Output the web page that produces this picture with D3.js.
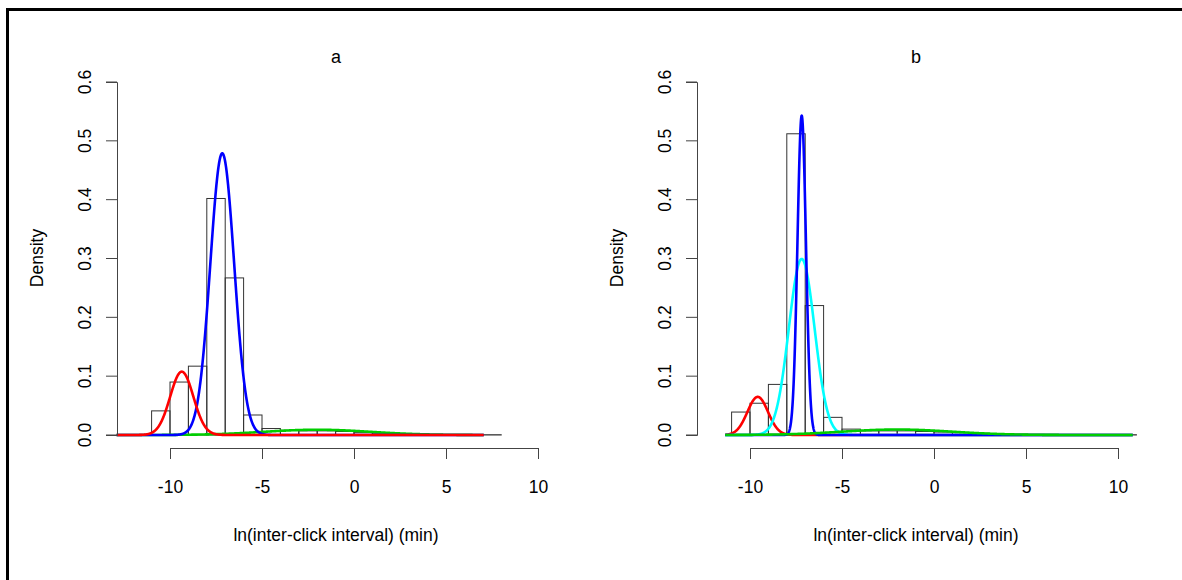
<!DOCTYPE html>
<html>
<head>
<meta charset="utf-8">
<style>
  html, body { margin: 0; padding: 0; background: #fff; }
  svg text { font-family: "Liberation Sans", Arial, sans-serif; fill: #000; }
</style>
</head>
<body>
<svg width="1182" height="580"></svg>
<script src="https://d3js.org/d3.v7.min.js"></script>
<script>
// histogram breaks (left edges, width 1) and densities, panel a
var breaksA = [-11,-10,-9,-8,-7,-6,-5,-4,-3,-2,-1,0,1,2,3,4,5,6,7];
var densA   = [0.041,0.090,0.117,0.402,0.267,0.034,0.011,0.008,0.007,0.007,0.006,0.004,0.003,0.002,0.001,0.0008,0.0005,0.0005,0.0005];

// panel b
var breaksB = [-12,-11,-10,-9,-8,-7,-6,-5,-4,-3,-2,-1,0,1,2,3,4,5,6,7,8,9,10];
var densB   = [0,0.039,0.054,0.086,0.512,0.220,0.030,0.010,0.007,0.007,0.007,0.006,0.005,0.004,0.003,0.002,0.001,0.001,0.0008,0.0005,0.0005,0.0005,0.0005];

// fitted normal mixture components: weight, mean, sd
var compsA = [
  {id: "green", w: 0.065, mean: -2.0, sd: 2.9},
  {id: "blue",  w: 0.78,  mean: -7.16, sd: 0.65},
  {id: "red",   w: 0.17,  mean: -9.36, sd: 0.63}
];
var compsB = [
  {id: "red",   w: 0.091, mean: -9.58, sd: 0.56},
  {id: "cyan",  w: 0.525, mean: -7.19, sd: 0.70},
  {id: "blue",  w: 0.313, mean: -7.19, sd: 0.23},
  {id: "green", w: 0.07,  mean: -2.0, sd: 3.0}
];
var curveRangeA = [-12.9, 7.05];
var curveRangeB = [-11.35, 10.8];

var xTicks = [-10, -5, 0, 5, 10];
var yTicks = [0, 0.1, 0.2, 0.3, 0.4, 0.5, 0.6];
var titles = ["a", "b"];
var xLabel = "ln(inter-click interval) (min)";
var yLabel = "Density";

var colors = {red: "#ff0000", blue: "#0000ff", cyan: "#00ffff", green: "#00cd00"};

var svg = d3.select("svg");
svg.append("rect").attr("width", 1182).attr("height", 580).attr("fill", "#fff");
svg.append("rect")
    .attr("x", 7.5).attr("y", 9.5).attr("width", 1200).attr("height", 600)
    .attr("fill", "none").attr("stroke", "#000").attr("stroke-width", 3);

function dnorm(x, m, s) {
  return Math.exp(-0.5 * ((x - m) / s) * ((x - m) / s)) / (s * Math.sqrt(2 * Math.PI));
}

function panel(offset, title, breaks, dens, comps, range) {
  var x = d3.scaleLinear().domain([-10, 10]).range([170 + offset, 538 + offset]);
  var y = d3.scaleLinear().domain([0, 0.6]).range([435, 82]);
  var g = svg.append("g");

  // histogram
  g.selectAll(".bar")
      .data(breaks)
      .enter().append("rect")
      .attr("class", "bar")
      .attr("x", function(d) { return x(d); })
      .attr("width", function(d) { return x(d + 1) - x(d); })
      .attr("y", function(d, i) { return y(dens[i]); })
      .attr("height", function(d, i) { return y(0) - y(dens[i]); })
      .attr("fill", "none")
      .attr("stroke", "#333")
      .attr("stroke-width", 1);

  // density curves
  var xs = d3.range(range[0], range[1], 0.01).concat([range[1]]);
  var line = d3.line()
      .x(function(d) { return x(d[0]); })
      .y(function(d) { return y(d[1]); });
  comps.forEach(function(c) {
    g.append("path")
        .datum(xs.map(function(v) { return [v, c.w * dnorm(v, c.mean, c.sd)]; }))
        .attr("fill", "none")
        .attr("stroke", colors[c.id])
        .attr("stroke-width", 2.6)
        .attr("stroke-linejoin", "round")
        .attr("d", line);
  });

  // axes
  var ax = g.append("g")
      .attr("transform", "translate(0,448)")
      .call(d3.axisBottom(x).tickValues(xTicks).tickSize(11).tickPadding(22));
  ax.selectAll("text").style("font-size", "17.5px").text(function(d) { return d < 0 ? "-" + Math.abs(d) : d; });

  var ay = g.append("g")
      .attr("transform", "translate(" + (117 + offset) + ",0)")
      .call(d3.axisLeft(y).tickValues(yTicks).tickSize(11).tickFormat(d3.format(".1f")));
  ay.selectAll(".tick").attr("transform", null);
  ay.selectAll(".tick line").attr("transform", function(d) { return "translate(0," + y(d) + ")"; });
  ay.selectAll("text")
      .style("font-size", "17.5px")
      .attr("text-anchor", "middle")
      .attr("x", 0).attr("y", 0).attr("dy", "0.35em")
      .attr("transform", function(d) { return "translate(-32," + y(d) + ") rotate(-90)"; });

  [ax, ay].forEach(function(a) {
    a.selectAll("line, path").attr("stroke", "#444");
  });

  g.append("text")
      .attr("x", 336 + offset).attr("y", 63)
      .attr("text-anchor", "middle")
      .style("font-size", "18px")
      .text(title);
  g.append("text")
      .attr("x", 336 + offset).attr("y", 541)
      .attr("text-anchor", "middle")
      .style("font-size", "17.5px")
      .text(xLabel);
  g.append("text")
      .attr("transform", "translate(" + (43 + offset) + ",258) rotate(-90)")
      .attr("text-anchor", "middle")
      .style("font-size", "17.5px")
      .text(yLabel);
}

panel(0, titles[0], breaksA, densA, compsA, curveRangeA);
panel(580, titles[1], breaksB, densB, compsB, curveRangeB);
</script>
</body>
</html>
